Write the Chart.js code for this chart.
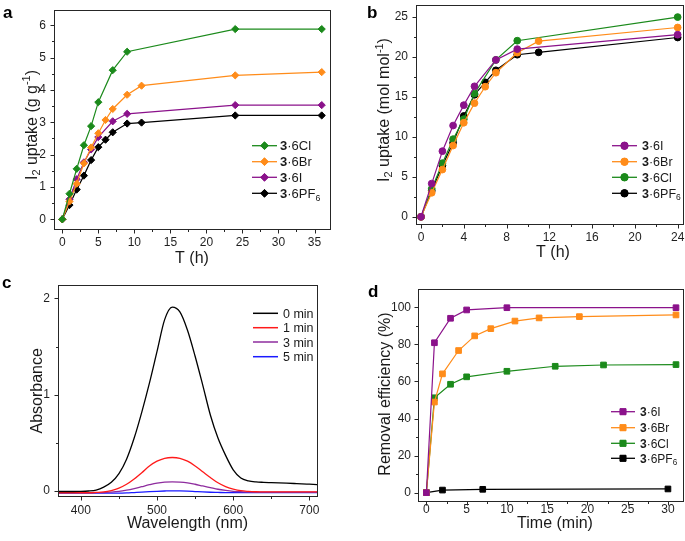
<!DOCTYPE html>
<html><head><meta charset="utf-8">
<script src="https://cdn.jsdelivr.net/npm/chart.js@4.4.1/dist/chart.umd.min.js"></script>
<style>
html,body{margin:0;padding:0;background:#fff;width:685px;height:541px;overflow:hidden;position:relative}
canvas{position:absolute;left:-100px;top:-100px}
</style></head><body>
<canvas id="ca" width="885" height="741"></canvas>
<canvas id="cb" width="885" height="741"></canvas>
<canvas id="cc" width="885" height="741"></canvas>
<canvas id="cd" width="885" height="741"></canvas>
<script>
// ---------- Panel a : I2 uptake (g g-1) vs T (h) ----------
const labelsA = ['3·6Cl', '3·6Br', '3·6I', '3·6PF6'];
const timeA_Cl = [0, 1, 2, 3, 4, 5, 7, 9, 24, 36];
const upA_Cl   = [0, 0.79, 1.56, 2.29, 2.88, 3.62, 4.61, 5.18, 5.88, 5.88];
const timeA_Br = [0, 1, 2, 3, 4, 5, 6, 7, 9, 11, 24, 36];
const upA_Br   = [0, 0.55, 1.1, 1.73, 2.22, 2.66, 3.07, 3.41, 3.85, 4.13, 4.45, 4.55];
const timeA_I  = [0, 1, 2, 3, 4, 5, 7, 9, 24, 36];
const upA_I    = [0, 0.62, 1.24, 1.76, 2.16, 2.54, 3.03, 3.26, 3.53, 3.53];
const timeA_PF = [0, 1, 2, 3, 4, 5, 6, 7, 9, 11, 24, 36];
const upA_PF   = [0, 0.44, 0.92, 1.35, 1.83, 2.23, 2.46, 2.69, 2.96, 2.99, 3.21, 3.21];

// ---------- Panel b : I2 uptake (mol mol-1) vs T (h) ----------
const labelsB = ['3·6I', '3·6Br', '3·6Cl', '3·6PF6'];
const timeB_I  = [0, 1, 2, 3, 4, 5, 7, 9, 24];
const upB_I    = [0, 4.15, 8.2, 11.4, 13.95, 16.3, 19.6, 20.95, 22.75];
const timeB_Br = [0, 1, 2, 3, 4, 5, 6, 7, 9, 11, 24];
const upB_Br   = [0, 3.0, 5.9, 8.9, 11.75, 14.2, 16.25, 18.0, 20.5, 21.95, 23.65];
const timeB_Cl = [0, 1, 2, 3, 4, 5, 7, 9, 24];
const upB_Cl   = [0, 3.5, 6.7, 9.7, 12.2, 15.4, 19.6, 22.0, 24.95];
const timeB_PF = [0, 1, 2, 3, 4, 5, 6, 7, 9, 11, 24];
const upB_PF   = [0, 3.25, 6.4, 9.25, 12.6, 15.25, 16.8, 18.3, 20.25, 20.55, 22.4];

// ---------- Panel c : UV-vis absorbance ----------
const labelsC = ['0 min', '1 min', '3 min', '5 min'];
const wavelength = [370,380,390,400,410,420,430,440,450,460,470,480,490,500,510,520,530,540,550,560,570,580,590,600,610,620,630,640,650,660,670,680,690,700,710];
const abs0 = [-0.005,-0.005,-0.005,-0.004,0.0,0.01,0.04,0.09,0.18,0.33,0.55,0.82,1.12,1.45,1.78,1.91,1.86,1.67,1.40,1.10,0.79,0.55,0.37,0.22,0.135,0.105,0.094,0.09,0.087,0.084,0.081,0.078,0.075,0.071,0.067];
const abs1 = [-0.018,-0.018,-0.018,-0.018,-0.018,-0.015,-0.01,0.005,0.03,0.07,0.125,0.19,0.26,0.31,0.34,0.348,0.34,0.31,0.26,0.2,0.14,0.085,0.045,0.02,0.003,-0.004,-0.008,-0.01,-0.01,-0.01,-0.01,-0.01,-0.01,-0.01,-0.01];
const abs3 = [-0.016,-0.016,-0.016,-0.016,-0.016,-0.016,-0.016,-0.012,-0.005,0.008,0.025,0.045,0.065,0.082,0.092,0.095,0.093,0.085,0.07,0.052,0.035,0.018,0.006,-0.003,-0.008,-0.012,-0.012,-0.012,-0.012,-0.012,-0.012,-0.012,-0.012,-0.012,-0.012];
const abs5 = [-0.022,-0.022,-0.022,-0.022,-0.022,-0.022,-0.022,-0.022,-0.022,-0.02,-0.016,-0.012,-0.007,-0.003,0.0,0.002,0.001,-0.002,-0.006,-0.01,-0.013,-0.015,-0.017,-0.017,-0.017,-0.017,-0.017,-0.017,-0.017,-0.017,-0.017,-0.017,-0.017,-0.017,-0.017];

// ---------- Panel d : removal efficiency (%) vs time (min) ----------
const labelsD = ['3·6I', '3·6Br', '3·6Cl', '3·6PF6'];
const timeD_I  = [0, 1, 3, 5, 10, 31];
const effD_I   = [0, 80.9, 94.1, 98.6, 99.8, 99.8];
const timeD_Br = [0, 1, 2, 4, 6, 8, 11, 14, 19, 31];
const effD_Br  = [0, 48.9, 64.1, 76.7, 84.6, 88.5, 92.6, 94.3, 95.0, 95.9];
const timeD_Cl = [0, 1, 3, 5, 10, 16, 22, 31];
const effD_Cl  = [0, 51.2, 58.5, 62.5, 65.5, 68.2, 68.9, 69.1];
const timeD_PF = [0, 2, 7, 30];
const effD_PF  = [0, 1.4, 1.8, 2.0];

// ---------- styling ----------
const GREEN = '#1b8a1b', ORANGE = '#ff8c1a', PURPLE = '#8b128b', BLACK = '#000000';
const FAM = '"Liberation Sans", Arial, Helvetica, sans-serif';
const AX = '#262626';
const OFF = 100, CW = 885, CH = 741;
Chart.defaults.font.family = FAM;

function pts(xs, ys) { return xs.map((x, i) => ({ x: x, y: ys[i] })); }
function series(label, xs, ys, color, style, r) {
  return { label, data: pts(xs, ys), borderColor: color, backgroundColor: color,
    borderWidth: 1.2, pointStyle: style, pointRadius: r, pointBorderWidth: 1,
    pointBackgroundColor: color, pointBorderColor: color, tension: 0 };
}
function curve(label, xs, ys, color) {
  return { label, data: pts(xs, ys), borderColor: color, backgroundColor: color,
    borderWidth: 1.3, pointRadius: 0, cubicInterpolationMode: 'monotone' };
}
function chemRich(lbl) {
  if (lbl.indexOf('·') === 1) {
    const segs = [{ t: lbl[0], b: true }];
    const rest = lbl.slice(1);
    if (rest.endsWith('PF6')) { segs.push({ t: rest.slice(0, -1) }); segs.push({ t: '6', sub: true }); }
    else segs.push({ t: rest });
    return segs;
  }
  return [{ t: lbl }];
}
function drawRich(ctx, segs, x, y, size, align, rot, color) {
  const fontFor = s => (s.b ? 'bold ' : '') + ((s.sub || s.sup) ? (size * 0.68).toFixed(1) : size) + 'px ' + FAM;
  let w = 0;
  segs.forEach(s => { ctx.font = fontFor(s); s.w = ctx.measureText(s.t).width; w += s.w; });
  ctx.save();
  ctx.translate(x, y);
  if (rot) ctx.rotate(rot);
  ctx.fillStyle = color || AX;
  ctx.textBaseline = 'alphabetic';
  ctx.textAlign = 'left';
  let cx = align === 'center' ? -w / 2 : 0;
  segs.forEach(s => {
    ctx.font = fontFor(s);
    const dy = s.sub ? size * 0.2 : s.sup ? -size * 0.4 : 0;
    ctx.fillText(s.t, cx, dy);
    cx += s.w;
  });
  ctx.restore();
}

const deco = {
  id: 'deco',
  afterDraw(chart, args, o) {
    const { ctx, chartArea: a, scales: { x, y } } = chart;
    ctx.save();
    // frame
    ctx.strokeStyle = AX; ctx.lineWidth = 1;
    const L = Math.round(a.left) + 0.5, T = Math.round(a.top) + 0.5, R = Math.round(a.right) + 0.5, B = Math.round(a.bottom) + 0.5;
    ctx.strokeRect(L, T, R - L, B - T);
    // ticks (major from the scales, minor halfway)
    ctx.beginPath();
    const tickX = (v, len) => { const px = Math.round(x.getPixelForValue(v)) + 0.5; ctx.moveTo(px, B); ctx.lineTo(px, B + len); };
    const tickY = (v, len) => { const py = Math.round(y.getPixelForValue(v)) + 0.5; ctx.moveTo(L, py); ctx.lineTo(L - len, py); };
    for (let v = Math.ceil(x.min / o.xMinor) * o.xMinor; v <= x.max + 1e-9; v += o.xMinor) tickX(v, 2.5);
    for (let v = Math.ceil(y.min / o.yMinor) * o.yMinor; v <= y.max + 1e-9; v += o.yMinor) tickY(v, 2.5);
    x.ticks.forEach(t => tickX(t.value, 4));
    y.ticks.forEach(t => tickY(t.value, 4));
    ctx.stroke();
    ctx.translate(OFF, OFF);
    // legend
    const lg = o.legend;
    chart.data.datasets.forEach((ds, i) => {
      const yy = lg.y[i];
      ctx.strokeStyle = ds.borderColor; ctx.lineWidth = lg.lw || 1.3;
      ctx.beginPath(); ctx.moveTo(lg.x0, yy); ctx.lineTo(lg.x1, yy); ctx.stroke();
      if (ds.pointRadius > 0) {
        ctx.fillStyle = ds.borderColor; ctx.strokeStyle = ds.borderColor; ctx.lineWidth = 1;
        Chart.helpers.drawPoint(ctx, { pointStyle: ds.pointStyle, radius: ds.pointRadius + 0.3, borderWidth: 1, rotation: 0 }, (lg.x0 + lg.x1) / 2, yy);
        ctx.fill();
      }
      drawRich(ctx, chemRich(ds.label), lg.tx, yy + lg.size * 0.36, lg.size, 'left', 0, '#1a1a1a');
    });
    // axis titles
    drawRich(ctx, o.xTitle.segs, o.xTitle.x, o.xTitle.y, 16, 'center', 0, '#1a1a1a');
    drawRich(ctx, o.yTitle.segs, o.yTitle.x, o.yTitle.y, 16, 'center', -Math.PI / 2, '#1a1a1a');
    // panel letter
    ctx.fillStyle = '#000'; ctx.font = 'bold 17px ' + FAM; ctx.textBaseline = 'alphabetic'; ctx.textAlign = 'left';
    ctx.fillText(o.letter.t, o.letter.x, o.letter.y);
    ctx.restore();
  }
};

function build(id, p) {
  const want = { l: p.area.l + OFF, t: p.area.t + OFF, r: p.area.r + OFF, b: p.area.b + OFF };
  const chart = new Chart(document.getElementById(id), {
    type: 'line',
    data: { datasets: p.datasets },
    options: {
      responsive: false, animation: false, events: [],
      layout: { autoPadding: false, padding: { left: want.l - p.yw, top: want.t, right: CW - want.r, bottom: CH - want.b - p.xh } },
      scales: {
        x: { type: 'linear', min: p.xmin, max: p.xmax,
          afterFit: s => { s.height = p.xh; },
          grid: { display: false, drawTicks: false }, border: { display: false },
          ticks: { stepSize: p.xstep, includeBounds: false, autoSkip: false, maxRotation: 0, padding: p.xpad, color: '#1f1f1f', font: { size: 12 } } },
        y: { type: 'linear', min: p.ymin, max: p.ymax,
          afterFit: s => { s.width = p.yw; },
          grid: { display: false, drawTicks: false }, border: { display: false },
          ticks: { stepSize: p.ystep, includeBounds: false, autoSkip: false, padding: p.ypad, color: '#1f1f1f', font: { size: 12 } } }
      },
      plugins: { legend: { display: false }, tooltip: { enabled: false },
        deco: { xMinor: p.xstep / 2, yMinor: p.ystep / 2, legend: p.legend, xTitle: p.xTitle, yTitle: p.yTitle, letter: p.letter } }
    },
    plugins: [deco]
  });
  // nudge the layout padding so the plot area lands exactly where wanted
  for (let k = 0; k < 3; k++) {
    const a = chart.chartArea, pad = chart.options.layout.padding;
    const dl = want.l - a.left, dt = want.t - a.top, dr = a.right - want.r, db = a.bottom - want.b;
    if (Math.abs(dl) + Math.abs(dt) + Math.abs(dr) + Math.abs(db) < 0.5) break;
    chart.options.layout.padding = { left: pad.left + dl, top: pad.top + dt, right: pad.right + dr, bottom: pad.bottom + db };
    chart.update('none');
  }
  return chart;
}

// Panel a
build('ca', {
  area: { l: 54, t: 10, r: 330, b: 229 }, yw: 54, xh: 40, xpad: 6.3, ypad: 8,
  xmin: -1.15, xmax: 37.15, xstep: 5, ymin: -0.3, ymax: 6.47, ystep: 1,
  datasets: [
    series(labelsA[0], timeA_Cl, upA_Cl, GREEN, 'rectRot', 3.6),
    series(labelsA[1], timeA_Br, upA_Br, ORANGE, 'rectRot', 3.6),
    series(labelsA[2], timeA_I, upA_I, PURPLE, 'rectRot', 3.6),
    series(labelsA[3], timeA_PF, upA_PF, BLACK, 'rectRot', 3.6)
  ],
  legend: { x0: 252, x1: 277, tx: 280, y: [145.7, 161.7, 177.3, 193.3], size: 13 },
  xTitle: { segs: [{ t: 'T (h)' }], x: 192, y: 263 },
  yTitle: { segs: [{ t: 'I' }, { t: '2', sub: true }, { t: ' uptake (g g' }, { t: '-1', sup: true }, { t: ')' }], x: 36.5, y: 125 },
  letter: { t: 'a', x: 3, y: 18 }
});

// Panel b
build('cb', {
  area: { l: 416, t: 5, r: 683, b: 224 }, yw: 54, xh: 40, xpad: 6.3, ypad: 8,
  xmin: -0.47, xmax: 24.5, xstep: 4, ymin: -0.9, ymax: 26.46, ystep: 5,
  datasets: [
    series(labelsB[0], timeB_I, upB_I, PURPLE, 'circle', 3.4),
    series(labelsB[1], timeB_Br, upB_Br, ORANGE, 'circle', 3.4),
    series(labelsB[2], timeB_Cl, upB_Cl, GREEN, 'circle', 3.4),
    series(labelsB[3], timeB_PF, upB_PF, BLACK, 'circle', 3.4)
  ],
  legend: { x0: 612, x1: 637, tx: 642, y: [145.7, 161.7, 177.3, 193.3], size: 12.5 },
  xTitle: { segs: [{ t: 'T (h)' }], x: 553, y: 256.5 },
  yTitle: { segs: [{ t: 'I' }, { t: '2', sub: true }, { t: ' uptake (mol mol' }, { t: '-1', sup: true }, { t: ')' }], x: 389, y: 110 },
  letter: { t: 'b', x: 367, y: 18 }
});

// Panel c
build('cc', {
  area: { l: 58, t: 285, r: 317, b: 496 }, yw: 58, xh: 40, xpad: 7.5, ypad: 8,
  xmin: 370, xmax: 710, xstep: 100, ymin: -0.052, ymax: 2.14, ystep: 1,
  datasets: [
    curve(labelsC[0], wavelength, abs0, '#000000'),
    curve(labelsC[1], wavelength, abs1, '#ff1a1a'),
    curve(labelsC[2], wavelength, abs3, '#8e2c9e'),
    curve(labelsC[3], wavelength, abs5, '#1a1aff')
  ],
  legend: { x0: 253, x1: 278, tx: 283, y: [313.3, 327.7, 342, 356.7], size: 12.5, lw: 1.5 },
  xTitle: { segs: [{ t: 'Wavelength (nm)' }], x: 187.5, y: 528.2 },
  yTitle: { segs: [{ t: 'Absorbance' }], x: 41.5, y: 390.8 },
  letter: { t: 'c', x: 2, y: 288 }
});

// Panel d
build('cd', {
  area: { l: 418, t: 289, r: 683, b: 501 }, yw: 58, xh: 40, xpad: 1.8, ypad: 7,
  xmin: -1.04, xmax: 31.87, xstep: 5, ymin: -4.5, ymax: 109.9, ystep: 20,
  datasets: [
    series(labelsD[0], timeD_I, effD_I, PURPLE, 'rect', 4),
    series(labelsD[1], timeD_Br, effD_Br, ORANGE, 'rect', 4),
    series(labelsD[2], timeD_Cl, effD_Cl, GREEN, 'rect', 4),
    series(labelsD[3], timeD_PF, effD_PF, BLACK, 'rect', 4)
  ],
  legend: { x0: 611, x1: 635, tx: 640, y: [411.7, 427.7, 443.3, 458.3], size: 12 },
  xTitle: { segs: [{ t: 'Time (min)' }], x: 555, y: 528 },
  yTitle: { segs: [{ t: 'Removal efficiency (%)' }], x: 390, y: 394 },
  letter: { t: 'd', x: 368, y: 297 }
});
</script>
</body></html>
